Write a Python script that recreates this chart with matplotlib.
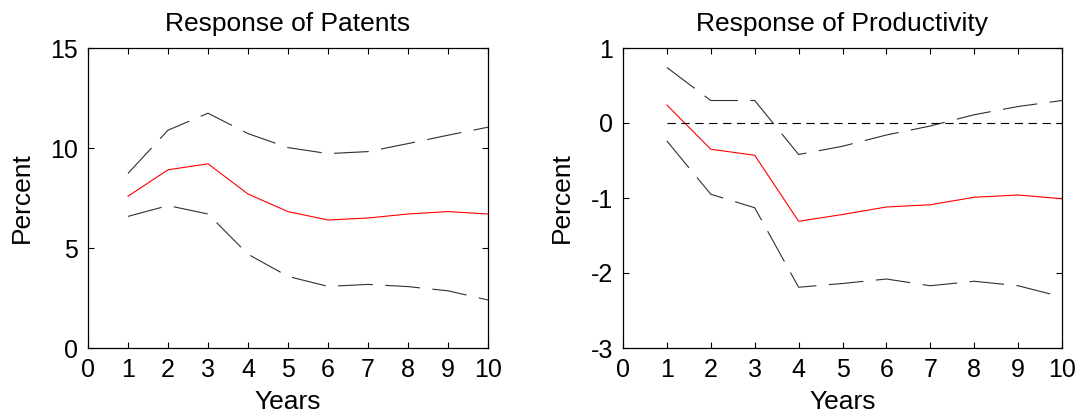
#!/usr/bin/env python3

import matplotlib
matplotlib.use("Agg")
import matplotlib.pyplot as plt
import numpy as np

# data
years = [1, 2, 3, 4, 5, 6, 7, 8, 9, 10]

patents_mid = [7.59, 8.91, 9.21, 7.70, 6.82, 6.40, 6.50, 6.70, 6.82, 6.70]
patents_hi = [8.73, 10.89, 11.74, 10.72, 10.02, 9.72, 9.82, 10.22, 10.64, 11.04]
patents_lo = [6.58, 7.12, 6.70, 4.69, 3.58, 3.08, 3.18, 3.07, 2.86, 2.40]

prod_mid = [0.24, -0.35, -0.43, -1.31, -1.22, -1.12, -1.09, -0.99, -0.96, -1.01]
prod_hi = [0.74, 0.30, 0.30, -0.42, -0.31, -0.16, -0.04, 0.11, 0.22, 0.30]
prod_lo = [-0.24, -0.95, -1.13, -2.19, -2.14, -2.08, -2.17, -2.11, -2.17, -2.32]

# font
plt.rcParams['font.family'] = ['Liberation Sans', 'DejaVu Sans']
plt.rcParams['lines.scale_dashes'] = False
plt.rcParams['axes.unicode_minus'] = False

fig = plt.figure(figsize=(10.83, 4.2), dpi=100)
W, H = 1083, 420
ax1 = fig.add_axes([88 / W, 1 - 348 / H, 400 / W, 300 / H])
ax2 = fig.add_axes([623 / W, 1 - 348 / H, 439 / W, 300 / H])

LONG_DASH = (0, (25, 9))

def draw_panel(ax, mid, hi, lo, title, ylim, yticks):
    ax.plot(years, hi, color='#303030', linewidth=0.8, linestyle=LONG_DASH)
    ax.plot(years, lo, color='#303030', linewidth=0.8, linestyle=LONG_DASH)
    ax.plot(years, mid, color='red', linewidth=0.8)

    ax.set_xlim(0, 10)
    ax.set_ylim(*ylim)
    ax.set_xticks(np.arange(0, 11, 1))
    ax.set_yticks(yticks)

    ax.set_title(title, fontsize=19, pad=12)
    ax.set_xlabel("Years", fontsize=19, labelpad=6)
    ax.set_ylabel("Percent", fontsize=19, labelpad=12)

    # ticks inside, on every side
    ax.tick_params(direction='in', top=True, right=True, labelsize=18,
                   length=4, width=0.8, pad=7)
    for s in ax.spines.values():
        s.set_linewidth(0.9)

draw_panel(ax1, patents_mid, patents_hi, patents_lo,
           "Response of Patents", (0, 15), [0, 5, 10, 15])
draw_panel(ax2, prod_mid, prod_hi, prod_lo,
           "Response of Productivity", (-3, 1), [-3, -2, -1, 0, 1])

# zero line on the productivity panel
ax2.plot([1, 10], [0, 0], color='black', linewidth=0.8, linestyle=(0, (6, 4)))

plt.savefig("out.png", dpi=100)
